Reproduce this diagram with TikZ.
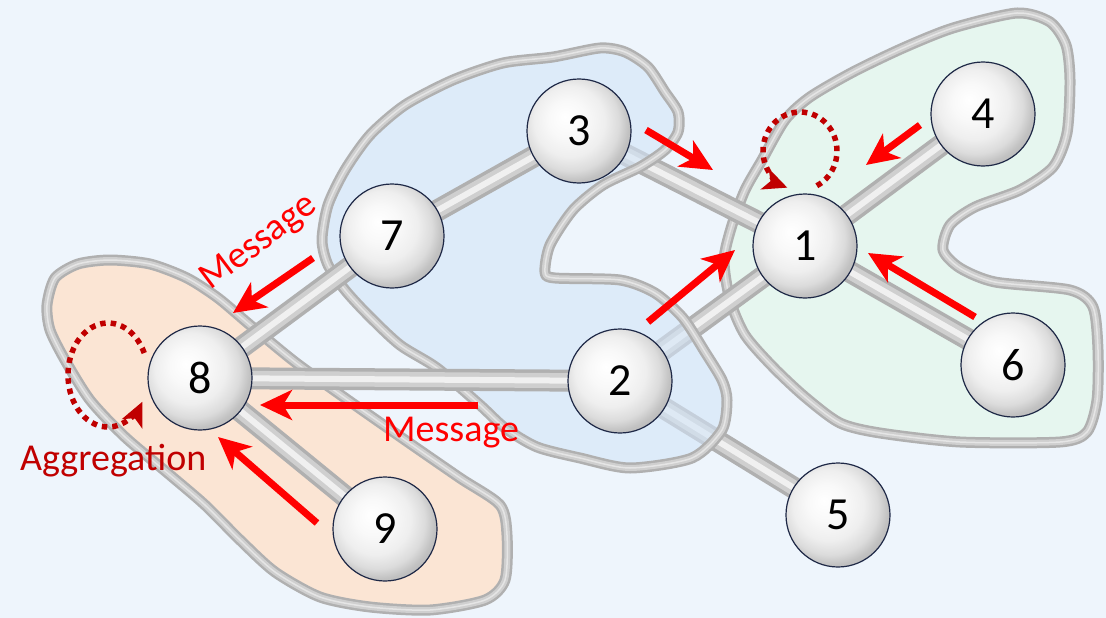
\documentclass[tikz,border=0pt]{standalone}
\usepackage{fontspec}
\setmainfont{Carlito}
\usetikzlibrary{arrows.meta}
\definecolor{bgc}{HTML}{EEF5FC}
\definecolor{orangefill}{HTML}{FBE5D4}
\definecolor{bluefill}{HTML}{D3E5F8}
\definecolor{greenfill}{HTML}{E6F6EF}
\definecolor{msgred}{HTML}{FF0000}
\definecolor{aggred}{HTML}{C00000}
\definecolor{navy}{HTML}{1E2846}
\pgfdeclareradialshading{sphere}{\pgfpoint{-7bp}{7bp}}{color(0bp)=(white); color(9bp)=(gray!5); color(17bp)=(gray!13); color(23bp)=(gray!28); color(27bp)=(gray!48); color(31bp)=(gray!58); color(50bp)=(gray!58)}
\pgfdeclarelayer{l1}
\pgfdeclarelayer{l2}
\pgfdeclarelayer{l3}
\pgfdeclarelayer{l4}
\pgfsetlayers{l1,l2,l3,l4,main}
\begin{document}
\begin{tikzpicture}[x=1pt,y=-1pt,
  ball/.style={circle, minimum size=104pt, inner sep=0pt, shading=sphere, draw=navy, line width=1.2pt, font=\fontsize{46}{46}\selectfont},
  tube/.style={line width=22pt, draw=gray!62, line cap=butt, postaction={draw=gray!38, line width=15pt}, postaction={draw=gray!12, line width=6pt}},
  blob/.style={draw=gray!62, line width=11pt, line join=round, postaction={draw=gray!38, line width=6pt}, postaction={draw=white!80!gray, line width=1.5pt}},
  msgarrow/.style={draw=msgred, line width=7pt, -{Stealth[length=32pt,width=30pt,inset=9pt]}},
  aggarrow/.style={draw=aggred, line width=5.5pt, dash pattern=on 5.5pt off 5pt, -{Stealth[length=24pt,width=22pt,inset=6pt]}},
  msgtext/.style={text=msgred, font=\fontsize{38}{38}\selectfont, inner sep=0pt},
  aggtext/.style={text=aggred, font=\fontsize{38}{38}\selectfont, inner sep=0pt}]
\useasboundingbox (0,0) rectangle (1106,618);
% nodes
\node[ball] (n1) at (805,246) {1};
\node[ball] (n2) at (620,381) {2};
\node[ball] (n3) at (579,131) {3};
\node[ball] (n4) at (983,114) {4};
\node[ball] (n5) at (838,515) {5};
\node[ball] (n6) at (1013,365) {6};
\node[ball] (n7) at (392,236) {7};
\node[ball] (n8) at (200,378) {8};
\node[ball] (n9) at (385,529) {9};
\begin{pgfonlayer}{l1}
\fill[bgc] (0,0) rectangle (1106,618);
\draw[blob, fill=greenfill] plot[smooth cycle, tension=0.45] coordinates {(1017,13) (1050,22) (1066,45) (1070,80) (1067,133) (1053,167) (1020,190) (975,207) (950,225) (943,250) (960,268) (995,282) (1070,290) (1093,307) (1098,350) (1097,400) (1087,432) (1060,442) (960,442) (880,433) (840,423) (805,397) (773,367) (745,335) (730,300) (724,260) (732,225) (745,190) (762,160) (785,120) (810,97) (853,72) (903,48) (953,28)};
\draw[blob, fill=orangefill] plot[smooth cycle, tension=0.45] coordinates {(47,305) (55,278) (78,264) (110,260) (150,264) (187,278) (218,298) (250,325) (295,362) (345,398) (405,440) (460,478) (500,505) (507,535) (505,580) (485,600) (430,610) (370,607) (320,597) (275,572) (240,540) (205,505) (170,475) (125,437) (90,400) (65,360) (50,330)};
\end{pgfonlayer}
\begin{pgfonlayer}{l2}
\draw[tube] (n3.center) -- (n1.center);
\draw[tube] (n2.center) -- (n1.center);
\draw[tube] (n2.center) -- (n5.center);
\end{pgfonlayer}
\begin{pgfonlayer}{l3}
\draw[blob, fill=bluefill, fill opacity=0.6] plot[smooth cycle, tension=0.45] coordinates {(322,240) (328,205) (345,170) (370,135) (405,105) (453,80) (503,63) (553,57) (600,48) (625,52) (648,67) (665,92) (678,112) (678,132) (665,150) (640,167) (603,185) (573,210) (550,245) (545,272) (555,278) (620,280) (655,293) (683,318) (705,352) (722,380) (727,400) (722,430) (692,458) (630,468) (580,458) (537,447) (505,428) (480,405) (437,368) (400,345) (368,315) (345,290) (328,265)};
\end{pgfonlayer}
\begin{pgfonlayer}{l4}
\draw[tube] (n7.center) -- (n3.center);
\draw[tube] (n7.center) -- (n8.center);
\draw[tube] (n8.center) -- (n2.center);
\draw[tube] (n8.center) -- (n9.center);
\draw[tube] (n1.center) -- (n4.center);
\draw[tube] (n1.center) -- (n6.center);
\end{pgfonlayer}
% message arrows
\coordinate (a1s) at (313,258); \coordinate (a1e) at (233,313);
\coordinate (a2s) at (478,405); \coordinate (a2e) at (260,405);
\coordinate (a3s) at (317,523); \coordinate (a3e) at (218,437);
\coordinate (a4s) at (646,130); \coordinate (a4e) at (713,170);
\coordinate (a5s) at (648,322); \coordinate (a5e) at (735,250);
\coordinate (a6s) at (920,125); \coordinate (a6e) at (866,165);
\coordinate (a7s) at (975,317); \coordinate (a7e) at (868,253);
\draw[msgarrow] (a1s) -- (a1e);
\draw[msgarrow] (a2s) -- (a2e);
\draw[msgarrow] (a3s) -- (a3e);
\draw[msgarrow] (a4s) -- (a4e);
\draw[msgarrow] (a5s) -- (a5e);
\draw[msgarrow] (a6s) -- (a6e);
\draw[msgarrow] (a7s) -- (a7e);
% aggregation loops
\coordinate (c8s) at ({108+40*cos(-25)},{375+52*sin(-25)});
\draw[aggarrow] (c8s) arc[start angle=-25, end angle=-329, x radius=40, y radius=52];
\coordinate (c1s) at ({800+37*cos(63)},{151+39*sin(63)});
\draw[aggarrow] (c1s) arc[start angle=63, end angle=-250, x radius=37, y radius=39];
% texts
\node[msgtext, anchor=base west] (m1) at (383,441) {Message};
\node[msgtext, rotate=37] (m2) at (259,243) {Message};
\node[aggtext, anchor=base west] (ag) at (20,470) {Aggregation};
\end{tikzpicture}
\end{document}
